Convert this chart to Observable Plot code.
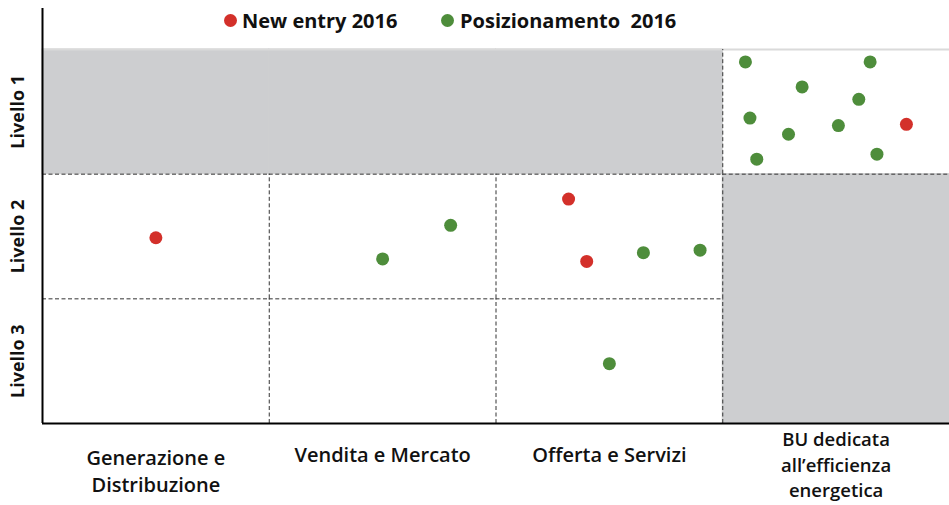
<!DOCTYPE html>
<html>
<head>
<meta charset="utf-8">
<script src="https://cdn.jsdelivr.net/npm/d3@7"></script>
<script src="https://cdn.jsdelivr.net/npm/@observablehq/plot@0.6"></script>
<style>
  html, body { margin: 0; padding: 0; background: #fff; }
  #wrap { position: relative; width: 949px; height: 505px; font-family: "Open Sans", Lato, sans-serif; }
  #legend { position: absolute; top: 8px; left: 0; width: 949px; height: 26px; font-weight: 700; font-size: 20px; line-height: 26px; color: #111; }
  .sw { position: absolute; top: 6px; width: 13px; height: 13px; border-radius: 50%; }
  .tx { position: absolute; top: 0; white-space: pre; }
</style>
</head>
<body>
<div id="wrap"><div id="legend"></div></div>
<script>
// ---- data ----
const columns = ["Generazione e\nDistribuzione", "Vendita e Mercato", "Offerta e Servizi", "BU dedicata\nall\u2019efficienza\nenergetica"];
const levels = ["Livello 1", "Livello 2", "Livello 3"]; // top to bottom
const seriesNames = ["New entry 2016", "Posizionamento  2016"];
const seriesColors = ["#d3302a", "#4e8d3b"];
// shaded cells: [column index, level name]
const shadedCells = [[0, "Livello 1"], [1, "Livello 1"], [2, "Livello 1"], [3, "Livello 2"], [3, "Livello 3"]];
// point positions in grid units (x: 0..4 across columns, y: 0..3 from bottom)
const newEntry = [[0.50, 1.49], [2.32, 1.80], [2.40, 1.30], [3.81, 2.40]];
const posizionamento = [
  [1.50, 1.32], [1.80, 1.59],
  [2.65, 1.37], [2.90, 1.39], [2.50, 0.48],
  [3.10, 2.90], [3.65, 2.90], [3.35, 2.70], [3.60, 2.60], [3.12, 2.45],
  [3.29, 2.32], [3.51, 2.39], [3.15, 2.12], [3.68, 2.16]
];
// legend placement (swatch left, text left), px
const legendSwatchLeft = [224, 441];
const legendTextLeft = [242, 460];

// ---- derived tables ----
const nRows = levels.length, nCols = columns.length;
const rowOf = (name) => nRows - 1 - levels.indexOf(name); // 0 = bottom
const shadedSet = new Set(shadedCells.map(([c, l]) => c + "," + rowOf(l)));
const isShaded = (c, r) => shadedSet.has(c + "," + r);
const rects = shadedCells.map(([c, l]) => ({x1: c, x2: c + 1, y1: rowOf(l), y2: rowOf(l) + 1}));

// internal cell borders: drawn unless both neighbours are shaded
const vSegs = [], hSegs = [];
for (let c = 1; c < nCols; c++) for (let r = 0; r < nRows; r++)
  if (!(isShaded(c - 1, r) && isShaded(c, r))) vSegs.push({x: c, y1: r, y2: r + 1});
for (let r = 1; r < nRows; r++) for (let c = 0; c < nCols; c++)
  if (!(isShaded(c, r - 1) && isShaded(c, r))) hSegs.push({y: r, x1: c, x2: c + 1});

const points = [
  ...newEntry.map(([x, y]) => ({x, y, s: seriesNames[0]})),
  ...posizionamento.map(([x, y]) => ({x, y, s: seriesNames[1]}))
];
const colLabels = columns.map((t, i) => ({t, x: i + 0.5, i, lines: t.split("\n").length}));
const rowLabels = levels.map((t, i) => ({t, y: nRows - 1 - i + 0.5}));

const labelStyle = {x: "x", text: "t", frameAnchor: "bottom", lineAnchor: "middle", fontSize: 20, fontWeight: 600, fill: "#111"};

const chart = Plot.plot({
  width: 949,
  height: 505,
  marginLeft: 42,
  marginRight: 0,
  marginTop: 8,
  marginBottom: 82,
  style: {fontFamily: "'Open Sans', Lato, sans-serif", background: "transparent"},
  x: {domain: [0, nCols], axis: null},
  y: {domain: [0, nRows], range: [423, 49], axis: null},
  color: {domain: seriesNames, range: seriesColors},
  marks: [
    Plot.rect(rects, {x1: "x1", x2: "x2", y1: "y1", y2: "y2", fill: "#cdced0", stroke: "#cdced0", strokeWidth: 1}),
    Plot.ruleY([nRows], {stroke: "#dadada", strokeWidth: 2}),
    Plot.ruleX(vSegs, {x: "x", y1: "y1", y2: "y2", stroke: "#333", strokeWidth: 1, strokeDasharray: "4,2.5"}),
    Plot.ruleY(hSegs, {y: "y", x1: "x1", x2: "x2", stroke: "#333", strokeWidth: 1, strokeDasharray: "4,2.5"}),
    Plot.ruleX([0], {stroke: "#000", strokeWidth: 2}),
    Plot.ruleY([0], {stroke: "#000", strokeWidth: 2}),
    Plot.dot(points, {x: "x", y: "y", r: 6.5, fill: "s", stroke: "none"}),
    Plot.text(colLabels.filter(d => d.lines === 1), {...labelStyle, dy: 32}),
    Plot.text(colLabels.filter(d => d.lines === 2), {...labelStyle, dy: 46, lineHeight: 1.36}),
    Plot.text(colLabels.filter(d => d.lines === 3), {...labelStyle, fontSize: 18.5, dy: 40, lineHeight: 1.37}),
    Plot.text(rowLabels, {y: "y", text: "t", frameAnchor: "left", dx: -24, rotate: -90, textAnchor: "middle", lineAnchor: "middle", fontSize: 18, fontWeight: 700, fill: "#111"})
  ]
});
const wrap = document.getElementById("wrap");
chart.style.position = "absolute";
chart.style.left = "0";
chart.style.top = "0";
wrap.appendChild(chart);

const legend = document.getElementById("legend");
seriesNames.forEach((name, i) => {
  const sw = document.createElement("span");
  sw.className = "sw";
  sw.style.left = legendSwatchLeft[i] + "px";
  sw.style.background = seriesColors[i];
  const tx = document.createElement("span");
  tx.className = "tx";
  tx.style.left = legendTextLeft[i] + "px";
  tx.textContent = name;
  legend.appendChild(sw); legend.appendChild(tx);
});
</script>
</body>
</html>
